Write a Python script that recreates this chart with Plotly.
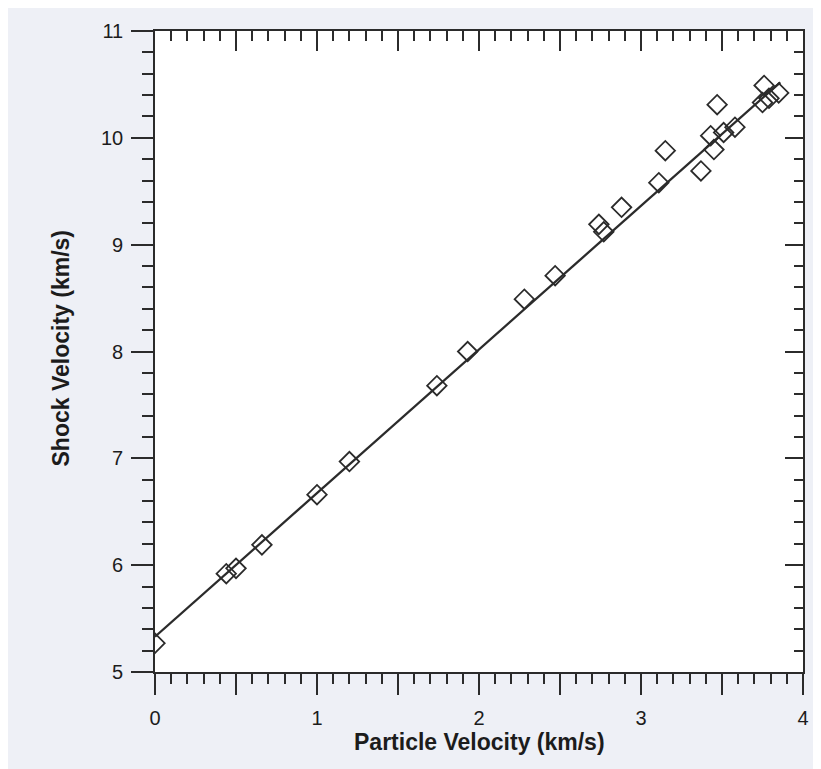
import plotly.graph_objects as go

# Data
particle_velocity = [0.00, 0.44, 0.50, 0.66, 1.00, 1.20, 1.74, 1.93, 2.28, 2.47,
                     2.74, 2.77, 2.88, 3.11, 3.15, 3.37, 3.43, 3.45, 3.47, 3.51,
                     3.58, 3.76, 3.75, 3.85, 3.79]
shock_velocity = [5.27, 5.92, 5.97, 6.19, 6.66, 6.97, 7.68, 8.00, 8.49, 8.71,
                  9.19, 9.12, 9.35, 9.58, 9.88, 9.69, 10.02, 9.89, 10.31, 10.05,
                  10.10, 10.49, 10.33, 10.42, 10.37]

fit_x = [0.0, 3.86]
fit_y = [5.33, 10.52]

x_tickvals = [0, 0.5, 1, 1.5, 2, 2.5, 3, 3.5, 4]
x_ticktext = ["0", "", "1", "", "2", "", "3", "", "4"]
y_tickvals = [5, 6, 7, 8, 9, 10, 11]
y_ticktext = ["5", "6", "7", "8", "9", "10", "11"]

x_title = "Particle Velocity (km/s)"
y_title = "Shock Velocity (km/s)"

INK = "#2b2b2b"
TXT = "#1c1c1c"
FONT = "Liberation Sans, Arial, sans-serif"

fig = go.Figure()
fig.add_trace(go.Scatter(
    x=particle_velocity, y=shock_velocity, mode="markers",
    marker=dict(symbol="diamond-open", size=15, color=INK, line=dict(width=1.8, color=INK)),
    showlegend=False))
fig.add_trace(go.Scatter(
    x=fit_x, y=fit_y, mode="lines",
    line=dict(color=INK, width=2.3), showlegend=False))
# invisible trace to activate overlay axes (top / right frame)
fig.add_trace(go.Scatter(x=[0], y=[5], xaxis="x2", yaxis="y2", mode="markers",
                         marker=dict(opacity=0), showlegend=False, hoverinfo="skip"))

axis_common = dict(showgrid=False, zeroline=False, showline=True,
                   linecolor=INK, linewidth=1.7, tickcolor=INK, tickwidth=1.5)

fig.update_layout(
    width=813, height=761,
    margin=dict(l=147, r=15, t=22, b=97),
    paper_bgcolor="#eef0f6", plot_bgcolor="white",
    font=dict(family=FONT, color=TXT),
    xaxis=dict(**axis_common, range=[0, 4], side="bottom",
               tickmode="array", tickvals=x_tickvals, ticktext=x_ticktext,
               ticks="outside", ticklen=21, ticklabelstandoff=6,
               tickfont=dict(size=20, family=FONT, color=TXT),
               minor=dict(dtick=0.1, tick0=0, ticks="outside", ticklen=10,
                          tickcolor=INK, tickwidth=1.5)),
    xaxis2=dict(**axis_common, range=[0, 4], side="top", overlaying="x",
                tickmode="array", tickvals=x_tickvals, showticklabels=False,
                ticks="inside", ticklen=20,
                minor=dict(dtick=0.1, tick0=0, ticks="inside", ticklen=10,
                           tickcolor=INK, tickwidth=1.5)),
    yaxis=dict(**axis_common, range=[5, 11], side="left",
               tickmode="array", tickvals=y_tickvals, ticktext=y_ticktext,
               ticks="outside", ticklen=22, ticklabelstandoff=4,
               tickfont=dict(size=20, family=FONT, color=TXT),
               minor=dict(dtick=0.2, tick0=5, ticks="outside", ticklen=11,
                          tickcolor=INK, tickwidth=1.5)),
    yaxis2=dict(**axis_common, range=[5, 11], side="right", overlaying="y",
                tickmode="array", tickvals=y_tickvals, showticklabels=False,
                ticks="inside", ticklen=18,
                minor=dict(dtick=0.2, tick0=5, ticks="inside", ticklen=9,
                           tickcolor=INK, tickwidth=1.5)),
    annotations=[
        dict(text="<b>" + x_title + "</b>", xref="paper", yref="paper",
             x=0.5, y=0, xanchor="center", yanchor="middle", yshift=-70,
             showarrow=False, font=dict(size=23, family=FONT, color=TXT)),
        dict(text="<b>" + y_title + "</b>", xref="paper", yref="paper",
             x=0, y=0.5, xanchor="center", yanchor="middle", xshift=-95, yshift=3,
             textangle=-90, showarrow=False, font=dict(size=23, family=FONT, color=TXT)),
    ],
)

fig.write_html("out.html")
